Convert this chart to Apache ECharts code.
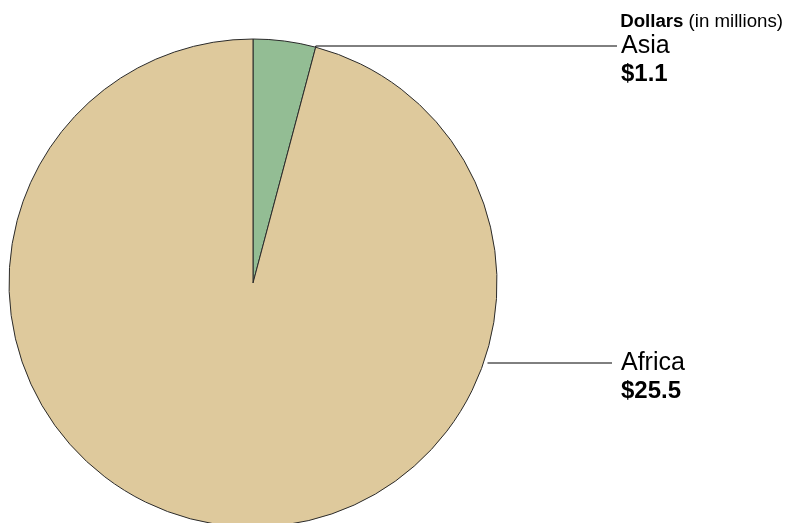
<!DOCTYPE html>
<html><head><meta charset="utf-8">
<script src="https://cdn.jsdelivr.net/npm/echarts@6/dist/echarts.min.js"></script>
<style>html,body{margin:0;padding:0;background:#fff}#c{width:793px;height:523px}</style>
</head><body><div id="c"></div>
<script>
const categories = ['Asia', 'Africa'];
const values = [1.1, 25.5];
const valueLabels = ['$1.1', '$25.5'];
const colors = ['#93bd94', '#dec99c'];

const CX = 253, CY = 283, R = 244;
const total = values.reduce((a, b) => a + b, 0);
// label placement (layout only)
const labelPos = [{x: 621, y: 32, lineY: 46, lineEnd: 617}, {x: 621, y: 349, lineY: 363, lineEnd: 612}];

function anchor(i) {
  if (i === 0) {
    const a = 2 * Math.PI * values[0] / total;
    return [CX + R * Math.sin(a), CY - R * Math.cos(a)];
  }
  const dy = labelPos[i].lineY - CY;
  return [CX + Math.sqrt(R * R - dy * dy) + 4, labelPos[i].lineY];
}

const chart = echarts.init(document.getElementById('c'), null, {renderer: 'canvas'});
chart.setOption({
  animation: false,
  title: {
    text: '{b|Dollars} {n|(in millions)}',
    right: 5, top: 7,
    textStyle: {
      fontWeight: 'normal',
      rich: {
        b: {fontFamily: 'Liberation Sans', fontSize: 18.7, fontWeight: 'bold', color: '#000'},
        n: {fontFamily: 'Liberation Sans', fontSize: 18.7, fontWeight: 'normal', color: '#000'}
      }
    }
  },
  series: [{
    type: 'pie',
    center: [CX, CY],
    radius: R,
    startAngle: 90,
    clockwise: true,
    silent: true,
    data: categories.map((c, i) => ({name: c, value: values[i], itemStyle: {color: colors[i]}})),
    itemStyle: {borderColor: '#2a2a2a', borderWidth: 1},
    label: {
      show: true,
      formatter: p => '{n|' + p.name + '}\n{v|' + valueLabels[p.dataIndex] + '}',
      rich: {
        n: {fontFamily: 'Liberation Sans', fontSize: 25, lineHeight: 28, color: '#000'},
        v: {fontFamily: 'Liberation Sans', fontSize: 24, fontWeight: 'bold', lineHeight: 28, color: '#000'}
      }
    },
    labelLine: {show: true, lineStyle: {color: '#000', width: 1}},
    labelLayout: function (p) {
      const i = p.dataIndex;
      const a = anchor(i);
      const lp = labelPos[i];
      return {
        x: lp.x, y: lp.y, align: 'left', verticalAlign: 'top',
        labelLinePoints: [[a[0], a[1]], [a[0], lp.lineY], [lp.lineEnd, lp.lineY]]
      };
    }
  }]
});
</script></body></html>
